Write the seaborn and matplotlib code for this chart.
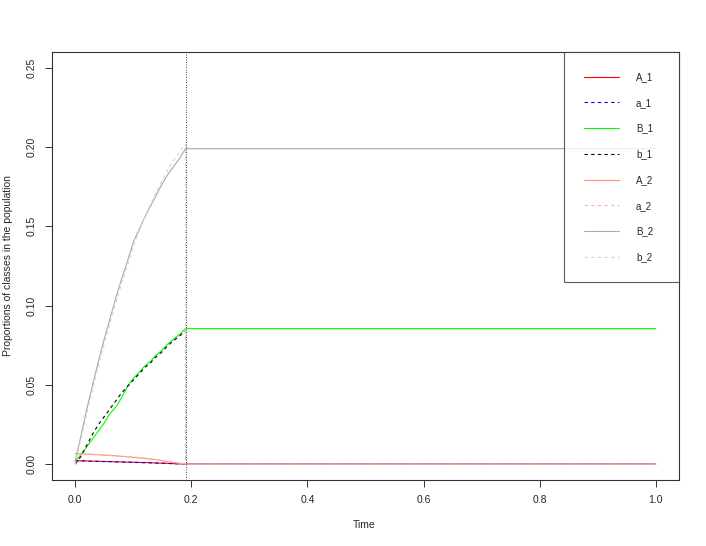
import numpy as np
import pandas as pd
import matplotlib
matplotlib.use("Agg")
import matplotlib.pyplot as plt
import seaborn as sns

# time grid of the simulation part (up to the stopping time), then the end
t_run = [0.00, 0.01, 0.02, 0.03, 0.04, 0.05, 0.06, 0.07, 0.08, 0.09, 0.10,
         0.11, 0.12, 0.13, 0.14, 0.15, 0.16, 0.17, 0.18, 0.19]
t_stop = 0.19
t_end = 1.0

A_1 = [0.0022, 0.0021, 0.0020, 0.0019, 0.0018, 0.0017, 0.0016, 0.0015, 0.0014, 0.0013, 0.0012,
       0.0011, 0.0010, 0.0009, 0.0007, 0.0006, 0.0005, 0.0003, 0.0002, 0.0000]
a_1 = [0.0020, 0.0021, 0.0019, 0.0018, 0.0018, 0.0016, 0.0016, 0.0014, 0.0013, 0.0013, 0.0011,
       0.0010, 0.0009, 0.0008, 0.0007, 0.0006, 0.0004, 0.0003, 0.0001, 0.0000]
B_1 = [0.0020, 0.0060, 0.0110, 0.0160, 0.0210, 0.0260, 0.0320, 0.0360, 0.0420, 0.0490, 0.0540,
       0.0580, 0.0620, 0.0650, 0.0690, 0.0720, 0.0760, 0.0790, 0.0820, 0.0855]
b_1 = [0.0000, 0.0050, 0.0120, 0.0190, 0.0250, 0.0300, 0.0350, 0.0400, 0.0450, 0.0490, 0.0530,
       0.0570, 0.0610, 0.0640, 0.0680, 0.0710, 0.0750, 0.0780, 0.0810, 0.0840]
A_2 = [0.0068, 0.0065, 0.0063, 0.0061, 0.0059, 0.0057, 0.0055, 0.0052, 0.0049, 0.0046, 0.0043,
       0.0040, 0.0036, 0.0032, 0.0028, 0.0022, 0.0016, 0.0010, 0.0005, 0.0000]
a_2 = [0.0064, 0.0066, 0.0064, 0.0062, 0.0060, 0.0058, 0.0056, 0.0053, 0.0051, 0.0048, 0.0045,
       0.0042, 0.0038, 0.0034, 0.0029, 0.0024, 0.0018, 0.0012, 0.0006, 0.0000]
B_2 = [0.0020, 0.0180, 0.0350, 0.0500, 0.0650, 0.0790, 0.0920, 0.1050, 0.1170, 0.1280, 0.1400,
       0.1480, 0.1560, 0.1630, 0.1700, 0.1770, 0.1830, 0.1880, 0.1930, 0.1990]
b_2 = [0.0000, 0.0160, 0.0320, 0.0470, 0.0620, 0.0760, 0.0890, 0.1020, 0.1140, 0.1250, 0.1370,
       0.1470, 0.1560, 0.1640, 0.1720, 0.1790, 0.1860, 0.1920, 0.1970, 0.2020]

series = {"A_1": A_1, "a_1": a_1, "B_1": B_1, "b_1": b_1,
          "A_2": A_2, "a_2": a_2, "B_2": B_2, "b_2": b_2}
colors = {"A_1": "red", "a_1": "blue", "B_1": "#00FF00", "b_1": "black",
          "A_2": "#FF8F6E", "a_2": "#FFB49A", "B_2": "darkgray", "b_2": "lightgray"}

rows = []
for name, vals in series.items():
    for t, v in zip(t_run, vals):
        rows.append((name, t, v))
    if name[0].islower():
        # lowercase classes vanish at the stopping time
        rows.append((name, t_stop, 0.0))
        rows.append((name, t_end, 0.0))
    else:
        rows.append((name, t_end, vals[-1]))
df = pd.DataFrame(rows, columns=["class", "time", "prop"])

sns.set_style("white")
plt.rcParams["font.family"] = ["Liberation Sans", "DejaVu Sans"]

fig = plt.figure(figsize=(7.06, 5.46), dpi=100)
ax = fig.add_axes([52 / 706, 1 - 480 / 546, 627 / 706, 428 / 546])

order = list(series.keys())
dashes = {k: ("" if k[0].isupper() else (3, 3)) for k in order}
sns.lineplot(data=df, x="time", y="prop", hue="class", style="class",
             hue_order=order, style_order=order, palette=colors, dashes=dashes,
             estimator=None, sort=False, lw=0.8, ax=ax)

ax.axvline(t_stop, color="black", ls=(0, (1, 2)), lw=0.6)

ax.set_xlim(-0.04, 1.04)
ax.set_ylim(-0.01, 0.26)
ax.set_xticks([0.0, 0.2, 0.4, 0.6, 0.8, 1.0])
ax.set_xticklabels(["0.0", "0.2", "0.4", "0.6", "0.8", "1.0"])
ax.set_yticks([0.0, 0.05, 0.10, 0.15, 0.20, 0.25])
ax.set_yticklabels(["0.00", "0.05", "0.10", "0.15", "0.20", "0.25"],
                   rotation=90, va="center")
ax.tick_params(axis="both", which="major", direction="out", length=5, width=0.7,
               color="#333333", labelsize=7.5, pad=6, left=True, bottom=True)
ax.set_xlabel("Time", fontsize=7.5, va="center")
ax.set_ylabel("Proportions of classes in the population", fontsize=7.5, va="center")
ax.xaxis.set_label_coords((364 - 52) / 627, (480 - 525) / 428)
ax.yaxis.set_label_coords((8 - 52) / 627, 0.5)
for s in ax.spines.values():
    s.set_visible(True)
    s.set_color("#333333")
    s.set_linewidth(0.8)

# legend box: x 564..679 px, top on the axes frame
h, l = ax.get_legend_handles_labels()
leg = ax.legend(h, l, loc="upper left", mode="expand",
                bbox_to_anchor=((564 - 52) / 627, 0, (679 - 564) / 627, 1.0),
                borderaxespad=0, frameon=True,
                fancybox=False, edgecolor="#333333", fontsize=7,
                handlelength=3.6, handletextpad=1.75, labelspacing=1.62,
                borderpad=2.05)
leg.get_frame().set_linewidth(0.8)

fig.savefig("out.png", dpi=100)
